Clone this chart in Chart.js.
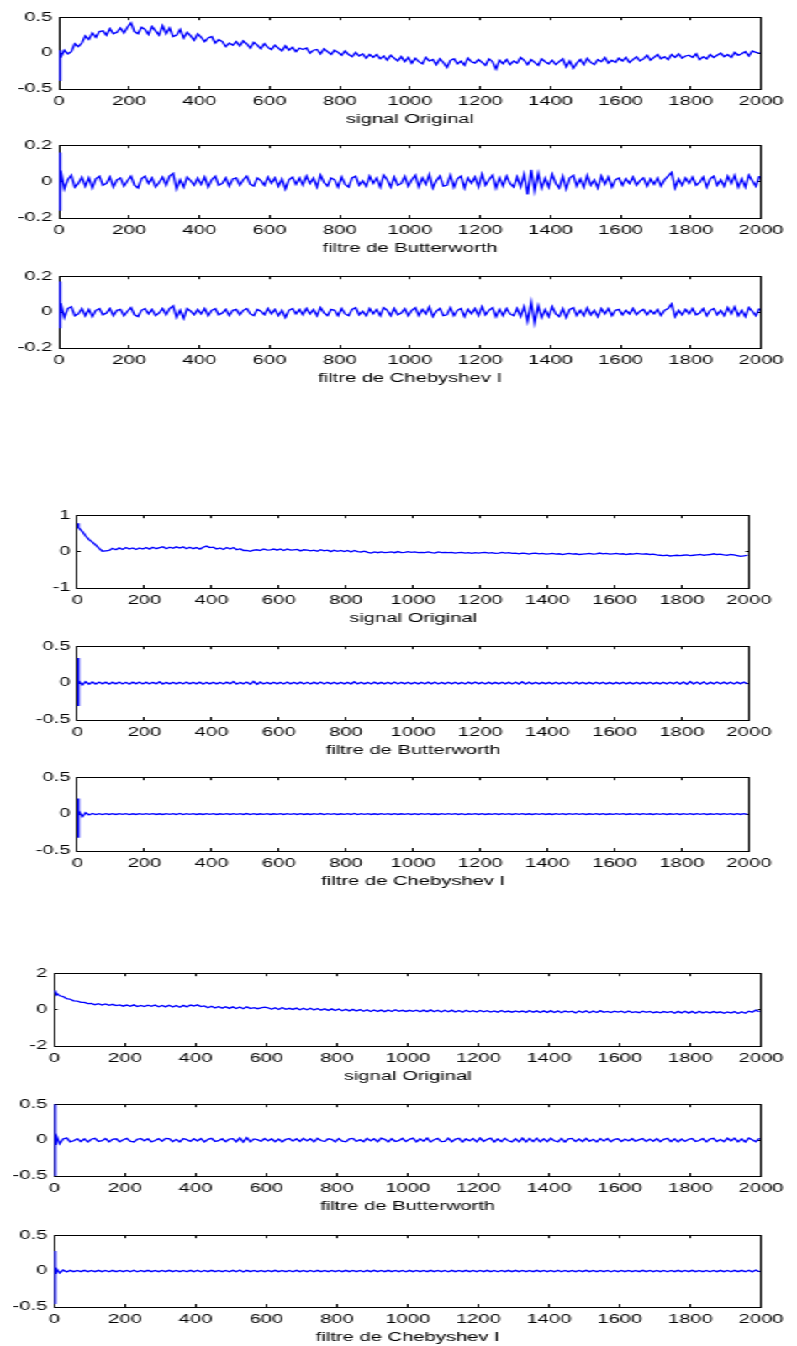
<!DOCTYPE html>
<html>
<head>
<meta charset="utf-8">
<script src="https://cdn.jsdelivr.net/npm/chart.js@4.4.1/dist/chart.umd.min.js"></script>
<style>
  html, body { margin: 0; padding: 0; background: #fff; }
  /* the figure is drawn narrow and stretched sideways, like the original export */
  #page { position: relative; width: 474px; height: 1346px; transform: scaleX(1.6814); transform-origin: 0 0; }
  #page canvas { position: absolute; left: 0; }
</style>
</head>
<body>
<div id="page"></div>
<script>
// sample positions (x) shared by every trace: the first few samples, then one reading every 10 samples
const headIdx = [1, 2, 3, 4];
const sampleIdx = headIdx.concat(Array.from({ length: 200 }, (_, i) => 5 + 10 * i));

const xTicks = [0, 200, 400, 600, 800, 1000, 1200, 1400, 1600, 1800, 2000];
const xLabels = ["signal Original", "filtre de Butterworth", "filtre de Chebyshev I"];

// ---- group 1 ----
const orig1 = [
  -0.38, -0.12, 0.04, -0.06,
  -0.06, 0.04, -0.01, 0.02, 0.13, 0.09, 0.14, 0.24, 0.19, 0.28,
  0.22, 0.3, 0.31, 0.25, 0.34, 0.27, 0.29, 0.35, 0.28, 0.36,
  0.42, 0.3, 0.27, 0.36, 0.33, 0.26, 0.37, 0.31, 0.25, 0.38,
  0.27, 0.35, 0.23, 0.25, 0.33, 0.21, 0.29, 0.24, 0.18, 0.27,
  0.22, 0.16, 0.21, 0.23, 0.14, 0.19, 0.16, 0.09, 0.14, 0.11,
  0.16, 0.1, 0.17, 0.13, 0.07, 0.15, 0.11, 0.06, 0.13, 0.08,
  0.05, 0.11, 0.07, 0.03, 0.1, 0.04, 0.08, 0.02, 0.07, 0.05,
  0.07, 0.0, 0.04, 0.05, -0.01, 0.06, 0.02, -0.02, 0.04, 0.01,
  -0.03, 0.03, -0.02, -0.05, 0.01, -0.04, -0.01, -0.07, -0.02, -0.06,
  -0.02, -0.08, -0.04, -0.1, -0.03, -0.07, -0.11, -0.05, -0.12, -0.06,
  -0.14, -0.07, -0.12, -0.15, -0.06, -0.11, -0.09, -0.16, -0.08, -0.13,
  -0.2, -0.1, -0.08, -0.15, -0.11, -0.17, -0.07, -0.12, -0.14, -0.09,
  -0.13, -0.17, -0.08, -0.12, -0.22, -0.1, -0.15, -0.09, -0.16, -0.11,
  -0.14, -0.06, -0.1, -0.16, -0.09, -0.13, -0.17, -0.08, -0.12, -0.15,
  -0.1, -0.16, -0.12, -0.08, -0.19, -0.11, -0.21, -0.14, -0.09, -0.16,
  -0.07, -0.13, -0.16, -0.09, -0.12, -0.06, -0.14, -0.1, -0.13, -0.07,
  -0.11, -0.06, -0.13, -0.09, -0.05, -0.11, -0.08, -0.03, -0.1, -0.06,
  -0.02, -0.08, -0.05, -0.09, -0.02, -0.06, -0.01, -0.07, -0.04, -0.03,
  -0.06, -0.01, -0.09, -0.05, -0.08, -0.02, -0.06, -0.03, 0.0, -0.05,
  -0.02, -0.06, 0.01, -0.03, -0.01, 0.02, -0.04, 0.03, 0.01, 0.0
];
const butter1 = [
  0.16, -0.16, 0.06, -0.05,
  0.06, -0.04, 0.01, 0.035, -0.03, -0.01, 0.025, -0.025, 0.02, -0.035,
  0.015, 0.03, -0.02, -0.01, 0.025, -0.03, 0.01, 0.02, -0.025, 0.005,
  0.03, -0.02, -0.035, 0.015, 0.03, -0.01, 0.02, -0.03, -0.005, 0.025,
  -0.02, 0.03, 0.045, -0.04, 0.01, -0.03, 0.025, 0.005, -0.02, 0.02,
  -0.015, 0.025, -0.03, 0.01, 0.03, -0.02, -0.01, 0.02, -0.025, 0.015,
  0.02, -0.02, 0.01, 0.03, -0.015, -0.025, 0.02, 0.005, -0.02, 0.025,
  -0.01, 0.02, -0.025, 0.015, -0.04, 0.01, 0.025, -0.015, 0.02, -0.02,
  0.03, -0.01, 0.02, -0.03, 0.035, -0.005, -0.025, 0.02, 0.01, -0.03,
  0.025, -0.015, -0.03, 0.02, 0.03, -0.02, 0.005, -0.025, 0.03, -0.01,
  0.02, -0.03, 0.035, 0.01, -0.03, 0.025, -0.02, -0.01, 0.03, -0.025,
  0.01, 0.035, -0.03, 0.02, -0.015, 0.04, -0.035, 0.005, 0.03, -0.025,
  -0.02, 0.035, -0.03, 0.015, 0.03, -0.035, 0.02, -0.01, 0.025, -0.03,
  0.04, -0.02, 0.01, 0.035, -0.035, 0.02, -0.025, 0.03, -0.01, -0.03,
  0.025, -0.03, 0.04, -0.07, 0.065, -0.05, 0.045, -0.035, 0.02, -0.03,
  0.04, -0.01, -0.035, 0.03, -0.04, 0.02, 0.035, -0.025, 0.015, -0.03,
  0.035, -0.02, 0.01, -0.035, 0.03, -0.015, 0.025, -0.03, 0.01, 0.02,
  -0.02, 0.015, -0.01, 0.025, -0.02, 0.005, 0.02, -0.025, 0.015, -0.015,
  0.02, -0.025, 0.01, 0.03, 0.05, -0.035, 0.015, -0.02, 0.02, -0.01,
  0.025, -0.02, -0.005, 0.025, -0.03, 0.015, 0.03, -0.02, 0.01, -0.025,
  0.03, -0.01, 0.035, -0.03, 0.015, -0.03, 0.035, 0.005, -0.025, 0.03
];
const cheby1 = [
  0.17, -0.09, 0.055, -0.04,
  0.05, -0.03, 0.02, 0.03, -0.02, -0.01, 0.02, -0.02, 0.015, -0.025,
  0.01, 0.02, -0.015, -0.005, 0.02, -0.02, 0.01, 0.015, -0.02, 0.005,
  0.025, -0.015, -0.025, 0.01, 0.02, -0.01, 0.015, -0.02, -0.005, 0.02,
  -0.015, 0.02, 0.035, -0.03, 0.01, -0.035, 0.02, 0.005, -0.015, 0.015,
  -0.01, 0.02, -0.02, 0.01, 0.02, -0.015, -0.005, 0.015, -0.02, 0.01,
  0.015, -0.015, 0.01, 0.02, -0.01, -0.02, 0.015, 0.005, -0.015, 0.02,
  -0.01, 0.015, -0.02, 0.01, -0.03, 0.01, 0.02, -0.01, 0.015, -0.015,
  0.02, -0.01, 0.015, -0.02, 0.025, -0.005, -0.02, 0.015, 0.01, -0.02,
  0.02, -0.01, -0.02, 0.015, 0.025, -0.015, 0.005, -0.02, 0.02, -0.01,
  0.015, -0.02, 0.025, 0.01, -0.02, 0.02, -0.015, -0.005, 0.02, -0.02,
  0.01, 0.025, -0.02, 0.015, -0.01, 0.03, -0.025, 0.005, 0.02, -0.02,
  -0.015, 0.025, -0.02, 0.01, 0.02, -0.025, 0.015, -0.01, 0.02, -0.02,
  0.03, -0.015, 0.01, 0.025, -0.025, 0.015, -0.02, 0.02, -0.01, -0.02,
  0.02, -0.025, 0.03, -0.05, 0.055, -0.06, 0.035, -0.03, 0.015, -0.025,
  0.03, -0.01, -0.025, 0.02, -0.03, 0.015, 0.025, -0.02, 0.01, -0.02,
  0.025, -0.015, 0.01, -0.025, 0.02, -0.01, 0.02, -0.02, 0.01, 0.015,
  -0.015, 0.01, -0.01, 0.02, -0.015, 0.005, 0.015, -0.015, 0.01, -0.01,
  0.015, -0.02, 0.01, 0.02, 0.045, -0.025, 0.01, -0.015, 0.015, -0.01,
  0.02, -0.015, -0.005, 0.02, -0.02, 0.01, 0.02, -0.015, 0.01, -0.02,
  0.025, -0.01, 0.03, -0.02, 0.01, -0.025, 0.025, 0.005, -0.02, 0.02
];

// ---- group 2 ----
const orig2 = [
  0.78, 0.72, 0.75, 0.7,
  0.66, 0.55, 0.43, 0.33, 0.26, 0.18, 0.09, 0.01, 0.02, 0.03,
  0.09, 0.05, 0.1, 0.06, 0.11, 0.07, 0.1, 0.06, 0.1, 0.07,
  0.11, 0.07, 0.12, 0.08, 0.11, 0.13, 0.08, 0.12, 0.09, 0.13,
  0.1, 0.13, 0.08, 0.12, 0.08, 0.11, 0.07, 0.12, 0.15, 0.11,
  0.12, 0.07, 0.1, 0.06, 0.11, 0.07, 0.11, 0.05, 0.08, 0.03,
  0.03, 0.01, 0.04, 0.05, 0.03, 0.07, 0.04, 0.05, 0.07, 0.04,
  0.07, 0.03, 0.07, 0.04, 0.05, 0.06, 0.02, 0.05, 0.04, 0.02,
  0.04, 0.01, 0.05, 0.02, 0.04, 0.0, 0.04, 0.01, 0.03, 0.0,
  0.03, -0.01, 0.03, 0.0, -0.01, 0.01, -0.02, -0.04, -0.01, -0.03,
  -0.01, -0.03, -0.02, -0.01, -0.03, 0.0, -0.03, -0.02, 0.0, -0.02,
  -0.01, -0.03, -0.02, -0.03, -0.01, -0.03, -0.04, -0.01, -0.03, -0.02,
  -0.03, -0.02, -0.04, -0.03, -0.02, -0.04, -0.03, -0.05, -0.03, -0.04,
  -0.03, -0.02, -0.04, -0.03, -0.05, -0.04, -0.02, -0.04, -0.03, -0.05,
  -0.04, -0.06, -0.04, -0.05, -0.07, -0.05, -0.04, -0.06, -0.05, -0.07,
  -0.06, -0.05, -0.07, -0.06, -0.08, -0.06, -0.05, -0.07, -0.06, -0.08,
  -0.07, -0.06, -0.05, -0.07, -0.06, -0.04, -0.06, -0.05, -0.07, -0.06,
  -0.05, -0.07, -0.06, -0.08, -0.06, -0.07, -0.05, -0.06, -0.07, -0.06,
  -0.08, -0.07, -0.09, -0.1, -0.11, -0.1, -0.12, -0.11, -0.1, -0.11,
  -0.1, -0.09, -0.11, -0.1, -0.09, -0.08, -0.1, -0.09, -0.08, -0.06,
  -0.08, -0.07, -0.09, -0.1, -0.08, -0.09, -0.11, -0.13, -0.12, -0.1
];
const butter2 = [
  0.34, -0.31, 0.06, -0.04,
  0.035, -0.025, 0.02, -0.015, 0.015, -0.012, 0.014, -0.01, 0.012, -0.014,
  0.012, -0.01, 0.014, -0.012, 0.01, -0.014, 0.012, -0.01, 0.014, -0.012,
  0.012, -0.012, 0.01, -0.01, 0.018, -0.012, 0.01, -0.01, 0.012, -0.01,
  0.01, -0.012, 0.014, -0.01, 0.012, -0.01, 0.012, -0.014, 0.01, -0.01,
  0.012, -0.01, 0.01, -0.012, 0.012, -0.01, 0.02, -0.014, 0.01, -0.01,
  0.014, -0.016, 0.022, -0.018, 0.014, -0.012, 0.01, -0.01, 0.012, -0.01,
  0.01, -0.012, 0.014, -0.01, 0.012, -0.01, 0.012, -0.012, 0.01, -0.012,
  0.012, -0.01, 0.014, -0.012, 0.01, -0.01, 0.012, -0.01, 0.012, -0.01,
  0.01, -0.012, 0.018, -0.01, 0.012, -0.01, 0.01, -0.012, 0.012, -0.01,
  0.01, -0.01, 0.012, -0.01, 0.014, -0.012, 0.01, -0.01, 0.012, -0.01,
  0.012, -0.01, 0.01, -0.012, 0.012, -0.01, 0.014, -0.012, 0.01, -0.01,
  0.012, -0.01, 0.012, -0.01, 0.01, -0.012, 0.012, -0.01, 0.014, -0.01,
  0.01, -0.012, 0.012, -0.01, 0.01, -0.01, 0.012, -0.01, 0.012, -0.012,
  0.014, -0.012, 0.018, -0.014, 0.012, -0.01, 0.012, -0.01, 0.01, -0.01,
  0.01, -0.01, 0.012, -0.01, 0.012, -0.01, 0.01, -0.012, 0.012, -0.01,
  0.012, -0.01, 0.01, -0.01, 0.012, -0.01, 0.012, -0.01, 0.01, -0.01,
  0.01, -0.01, 0.012, -0.01, 0.01, -0.01, 0.012, -0.01, 0.01, -0.01,
  0.012, -0.01, 0.01, -0.01, 0.012, -0.01, 0.012, -0.01, 0.014, -0.012,
  0.016, -0.014, 0.02, -0.012, 0.014, -0.012, 0.016, -0.014, 0.012, -0.01,
  0.014, -0.012, 0.012, -0.01, 0.014, -0.012, 0.012, -0.01, 0.014, -0.012
];
const cheby2 = [
  0.21, -0.32, 0.07, -0.05,
  0.05, -0.035, 0.02, -0.012, 0.008, -0.007, 0.006, -0.006, 0.006, -0.005,
  0.005, -0.005, 0.006, -0.004, 0.005, -0.006, 0.004, -0.005, 0.005, -0.004,
  0.005, -0.004, 0.006, -0.005, 0.004, -0.005, 0.005, -0.004, 0.006, -0.005,
  0.008, -0.006, 0.005, -0.004, 0.005, -0.005, 0.004, -0.005, 0.006, -0.004,
  0.005, -0.005, 0.004, -0.004, 0.006, -0.005, 0.005, -0.004, 0.005, -0.005,
  0.007, -0.006, 0.005, -0.005, 0.004, -0.004, 0.005, -0.005, 0.004, -0.004,
  0.006, -0.005, 0.005, -0.004, 0.005, -0.005, 0.006, -0.005, 0.004, -0.005,
  0.005, -0.004, 0.007, -0.006, 0.005, -0.004, 0.005, -0.005, 0.004, -0.004,
  0.005, -0.005, 0.008, -0.006, 0.005, -0.004, 0.005, -0.005, 0.004, -0.005,
  0.005, -0.004, 0.005, -0.005, 0.006, -0.005, 0.004, -0.004, 0.005, -0.005,
  0.006, -0.005, 0.005, -0.004, 0.007, -0.005, 0.004, -0.005, 0.005, -0.004,
  0.005, -0.004, 0.006, -0.005, 0.005, -0.006, 0.004, -0.004, 0.005, -0.005,
  0.006, -0.005, 0.004, -0.004, 0.005, -0.005, 0.006, -0.004, 0.005, -0.005,
  0.005, -0.004, 0.006, -0.005, 0.004, -0.005, 0.005, -0.004, 0.005, -0.005,
  0.004, -0.005, 0.005, -0.004, 0.006, -0.005, 0.005, -0.004, 0.005, -0.004,
  0.005, -0.005, 0.004, -0.004, 0.005, -0.005, 0.006, -0.005, 0.004, -0.004,
  0.005, -0.004, 0.005, -0.005, 0.004, -0.004, 0.006, -0.005, 0.005, -0.004,
  0.004, -0.005, 0.005, -0.004, 0.005, -0.005, 0.004, -0.004, 0.006, -0.005,
  0.005, -0.004, 0.006, -0.005, 0.005, -0.004, 0.005, -0.005, 0.004, -0.004,
  0.006, -0.005, 0.005, -0.004, 0.005, -0.005, 0.006, -0.005, 0.005, -0.004
];

// ---- group 3 ----
const orig3 = [
  1.05, 0.98, 1.0, 0.95,
  0.92, 0.76, 0.72, 0.6, 0.57, 0.48, 0.47, 0.4, 0.4, 0.33,
  0.34, 0.27, 0.32, 0.25, 0.31, 0.24, 0.29, 0.22, 0.26, 0.19,
  0.25, 0.18, 0.26, 0.17, 0.23, 0.17, 0.24, 0.18, 0.25, 0.16,
  0.23, 0.15, 0.24, 0.14, 0.22, 0.13, 0.23, 0.15, 0.25, 0.2,
  0.26, 0.17, 0.2, 0.1, 0.18, 0.09, 0.17, 0.08, 0.16, 0.07,
  0.15, 0.06, 0.14, 0.05, 0.15, 0.06, 0.11, 0.05, 0.1, 0.13,
  0.1, 0.02, 0.1, 0.01, 0.11, 0.02, 0.07, 0.01, 0.08, -0.01,
  0.07, -0.01, 0.07, -0.02, 0.06, -0.03, 0.05, -0.04, 0.04, -0.05,
  0.03, -0.06, 0.02, -0.07, 0.01, -0.08, 0.0, -0.09, -0.01, -0.1,
  -0.02, -0.1, -0.03, -0.11, -0.02, -0.1, -0.01, -0.09, -0.04, -0.1,
  -0.04, -0.09, -0.03, -0.12, -0.03, -0.11, -0.02, -0.12, -0.04, -0.13,
  -0.04, -0.12, -0.03, -0.13, -0.05, -0.14, -0.04, -0.12, -0.06, -0.13,
  -0.05, -0.12, -0.06, -0.13, -0.07, -0.14, -0.05, -0.13, -0.08, -0.14,
  -0.07, -0.13, -0.08, -0.15, -0.05, -0.14, -0.07, -0.16, -0.07, -0.15,
  -0.06, -0.16, -0.07, -0.17, -0.08, -0.14, -0.09, -0.18, -0.08, -0.16,
  -0.07, -0.17, -0.08, -0.16, -0.06, -0.15, -0.1, -0.16, -0.09, -0.14,
  -0.09, -0.17, -0.08, -0.16, -0.11, -0.17, -0.09, -0.15, -0.1, -0.17,
  -0.12, -0.18, -0.11, -0.16, -0.1, -0.2, -0.1, -0.18, -0.09, -0.19,
  -0.1, -0.2, -0.09, -0.18, -0.12, -0.19, -0.11, -0.17, -0.12, -0.2,
  -0.13, -0.19, -0.11, -0.21, -0.12, -0.2, -0.09, -0.14, -0.03, -0.12
];
const butter3 = [
  0.55, -0.55, 0.1, -0.06,
  0.07, -0.05, 0.015, 0.03, -0.025, -0.01, 0.02, -0.022, 0.018, -0.025,
  0.012, 0.024, -0.018, -0.008, 0.022, -0.024, 0.01, 0.018, -0.022, 0.006,
  0.024, -0.016, -0.026, 0.012, 0.022, -0.01, 0.018, -0.024, -0.006, 0.02,
  -0.016, 0.024, 0.02, -0.022, 0.01, -0.026, 0.02, 0.006, -0.018, 0.018,
  -0.012, 0.022, -0.024, 0.01, 0.024, -0.018, -0.008, 0.018, -0.022, 0.014,
  0.02, -0.022, 0.03, -0.028, 0.032, -0.024, 0.016, 0.006, -0.018, 0.022,
  -0.01, 0.018, -0.022, 0.014, -0.026, 0.01, 0.022, -0.014, 0.018, -0.018,
  0.024, -0.01, 0.018, -0.024, 0.026, -0.006, -0.02, 0.018, 0.01, -0.024,
  0.022, -0.014, -0.024, 0.018, 0.024, -0.018, 0.006, -0.022, 0.024, -0.01,
  0.018, -0.024, 0.026, 0.01, -0.024, 0.02, -0.018, -0.008, 0.024, -0.02,
  0.01, 0.026, -0.024, 0.018, -0.014, 0.028, -0.026, 0.006, 0.024, -0.02,
  -0.018, 0.026, -0.024, 0.014, 0.024, -0.026, 0.018, -0.01, 0.022, -0.024,
  0.028, -0.018, 0.01, 0.026, -0.026, 0.018, -0.02, 0.024, -0.01, -0.024,
  0.02, -0.024, 0.028, -0.026, 0.024, -0.02, 0.026, -0.024, 0.016, -0.022,
  0.026, -0.01, -0.024, 0.022, -0.026, 0.018, 0.024, -0.02, 0.014, -0.022,
  0.024, -0.016, 0.01, -0.024, 0.022, -0.014, 0.02, -0.022, 0.01, 0.018,
  -0.018, 0.014, -0.01, 0.022, -0.018, 0.006, 0.02, -0.02, 0.014, -0.016,
  0.02, -0.022, 0.01, 0.024, -0.02, 0.018, -0.024, 0.014, -0.018, 0.01,
  0.022, -0.018, -0.006, 0.022, -0.024, 0.014, 0.024, -0.018, 0.01, -0.022,
  0.026, -0.012, 0.028, -0.024, 0.016, -0.026, 0.028, 0.006, -0.022, 0.026
];
const cheby3 = [
  0.28, -0.46, 0.05, -0.03,
  0.04, -0.025, 0.015, -0.012, 0.01, -0.008, 0.008, -0.008, 0.01, -0.008,
  0.008, -0.008, 0.01, -0.008, 0.008, -0.01, 0.01, -0.008, 0.008, -0.008,
  0.008, -0.008, 0.012, -0.01, 0.008, -0.008, 0.01, -0.008, 0.008, -0.008,
  0.008, -0.008, 0.01, -0.008, 0.008, -0.008, 0.008, -0.01, 0.01, -0.008,
  0.012, -0.01, 0.008, -0.008, 0.01, -0.008, 0.008, -0.008, 0.008, -0.01,
  0.01, -0.008, 0.014, -0.012, 0.01, -0.008, 0.008, -0.008, 0.008, -0.008,
  0.008, -0.008, 0.01, -0.008, 0.008, -0.008, 0.008, -0.01, 0.01, -0.008,
  0.008, -0.008, 0.008, -0.01, 0.01, -0.008, 0.008, -0.008, 0.008, -0.008,
  0.008, -0.008, 0.01, -0.008, 0.008, -0.008, 0.008, -0.01, 0.01, -0.008,
  0.01, -0.008, 0.008, -0.008, 0.01, -0.008, 0.008, -0.008, 0.008, -0.01,
  0.01, -0.008, 0.008, -0.008, 0.008, -0.008, 0.01, -0.008, 0.008, -0.008,
  0.008, -0.01, 0.01, -0.008, 0.008, -0.008, 0.01, -0.008, 0.008, -0.008,
  0.008, -0.008, 0.01, -0.008, 0.008, -0.01, 0.008, -0.008, 0.01, -0.008,
  0.01, -0.008, 0.008, -0.008, 0.008, -0.008, 0.01, -0.008, 0.008, -0.008,
  0.008, -0.008, 0.012, -0.01, 0.008, -0.008, 0.008, -0.008, 0.008, -0.008,
  0.01, -0.008, 0.008, -0.008, 0.008, -0.008, 0.008, -0.01, 0.008, -0.008,
  0.008, -0.008, 0.008, -0.008, 0.008, -0.008, 0.01, -0.008, 0.008, -0.008,
  0.008, -0.008, 0.008, -0.01, 0.008, -0.008, 0.01, -0.008, 0.008, -0.008,
  0.01, -0.008, 0.008, -0.008, 0.008, -0.01, 0.008, -0.008, 0.01, -0.008,
  0.008, -0.01, 0.01, -0.008, 0.01, -0.008, 0.012, -0.01, 0.014, -0.01
];

// layout in final (stretched) page pixels
const STRETCH = 797 / 474;
const PAGE_W = 474;
const groups = [
  { left: 59, right: 768, series: [orig1, butter1, cheby1], yMax: [0.5, 0.2, 0.2], tops: [12, 140, 271], h: [77, 78, 77] },
  { left: 77.3, right: 749, series: [orig2, butter2, cheby2], yMax: [1, 0.5, 0.5], tops: [510, 641, 772], h: [78, 79, 79] },
  { left: 54.3, right: 773.3, series: [orig3, butter3, cheby3], yMax: [2, 0.5, 0.5], tops: [968, 1099, 1230], h: [78, 77, 77] }
];

const FONT = { family: "'Liberation Sans', Arial, Helvetica, sans-serif", size: 12 };
const PAD_TOP = 8, X_AXIS_H = 38, PAD_BOTTOM = 2;
const page = document.getElementById("page");

function fmt(v) {
  return String(Math.round(v * 100) / 100);
}

function boxAxis(position, min, max, step, tickLen, extra) {
  return Object.assign({
    type: "linear",
    position,
    min,
    max,
    ticks: { stepSize: step, display: false },
    grid: { drawOnChartArea: false, drawTicks: true, tickLength: tickLen, color: "#000", lineWidth: 1 },
    border: { display: true, color: "#000", width: 1 }
  }, extra);
}

groups.forEach(g => {
  const leftW = g.left / STRETCH;
  const padRight = PAGE_W - g.right / STRETCH;

  g.series.forEach((values, k) => {
    const h = g.h[k];
    const yMax = g.yMax[k];
    const canvas = document.createElement("canvas");
    canvas.width = PAGE_W;
    canvas.height = PAD_TOP + h + X_AXIS_H + PAD_BOTTOM;
    canvas.style.width = PAGE_W + "px";
    canvas.style.height = canvas.height + "px";
    canvas.style.top = (g.tops[k] - PAD_TOP) + "px";
    page.appendChild(canvas);

    const points = values.map((y, i) => ({ x: sampleIdx[i], y }));

    new Chart(canvas.getContext("2d"), {
      type: "line",
      data: {
        datasets: [{
          data: points,
          borderColor: "#0000ff",
          borderWidth: 1.3,
          pointRadius: 0,
          tension: 0,
          fill: false
        }]
      },
      options: {
        responsive: false,
        animation: false,
        devicePixelRatio: 1,
        layout: { padding: { top: PAD_TOP, right: padRight, bottom: PAD_BOTTOM, left: 0 } },
        plugins: { legend: { display: false }, tooltip: { enabled: false } },
        scales: {
          x: boxAxis("bottom", 0, 2000, 200, -3, {
            ticks: { stepSize: 200, color: "#000", font: FONT, padding: 8, maxRotation: 0, minRotation: 0, autoSkip: false, callback: v => fmt(v) },
            title: { display: true, text: xLabels[k], color: "#000", font: FONT, padding: 0 },
            afterBuildTicks: s => { s.ticks = xTicks.map(v => ({ value: v })); },
            afterFit: s => { s.height = X_AXIS_H; }
          }),
          x2: boxAxis("top", 0, 2000, 200, -3, {
            afterBuildTicks: s => { s.ticks = xTicks.map(v => ({ value: v })); },
            afterFit: s => { s.height = 0; }
          }),
          y: boxAxis("left", -yMax, yMax, yMax, -2, {
            ticks: { stepSize: yMax, color: "#000", font: FONT, padding: 6, callback: v => fmt(v) },
            afterFit: s => { s.width = leftW; }
          }),
          y2: boxAxis("right", -yMax, yMax, yMax, -2, {
            afterFit: s => { s.width = 0; }
          })
        }
      }
    });
  });
});
</script>
</body>
</html>
